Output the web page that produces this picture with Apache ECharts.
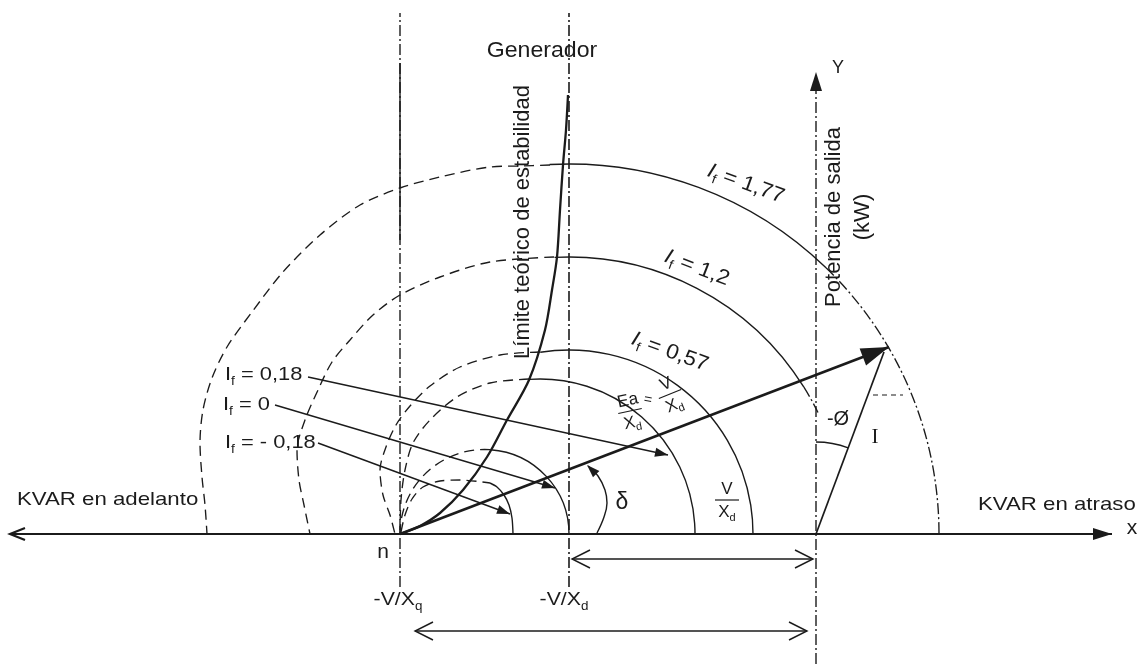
<!DOCTYPE html>
<html><head><meta charset="utf-8">
<script src="https://cdn.jsdelivr.net/npm/echarts@6/dist/echarts.min.js"></script>
<style>html,body{margin:0;padding:0;background:#fff}#c{width:1139px;height:664px}</style>
</head><body><div id="c"></div>
<script>
// ---- diagram units: 1 unit = 1 px of the original figure, origin at foot of the Y axis, y up ----
const xRange = [-816, 323];
const yRange = [-130, 534];

// stability-limit ("Generador") curve
const generatorCurve = [[-248,439],[-250,404],[-253,369],[-256,324],[-259,277],[-264,244],[-271,204],[-287,154],[-309,114],[-329,77],[-353,44],[-376,21],[-396,8],[-416,0]];

// constant-excitation circles : [cx, cy, r, fromDeg, toDeg]
const arcsSolid = [[-247,0,370,46,93],[-247,0,277,32,93],[-247,0,184,0,99],[-276,0,155,0,94],[-331.5,0,84.5,0,86],[0,0,92,69.5,90]];
const arcsDashDot = [[-247,0,370,0,46],[-247,0,277,26,32]];
const arcsDashed = [[-331.5,0,84.5,86,180]];

// dashed continuations of the excitation curves
const curve177Dashed = [[-266,369],[-296,368],[-326,367],[-376,357],[-416,346],[-456,329],[-496,299],[-533,262],[-564,222],[-589,187],[-604,156],[-613,124],[-616,91],[-614,57],[-611,29],[-609,0]];
const curve12Dashed = [[-262,277],[-326,272],[-376,257],[-416,239],[-443,219],[-466,194],[-484,172],[-498,144],[-511,114],[-519,84],[-517,54],[-512,29],[-506,0]];
const curve057Dashed = [[-276,182],[-316,179],[-356,167],[-386,148],[-406,128],[-420,109],[-430,87],[-436,64],[-433,39],[-426,19],[-421,0]];
const curveEaDashed = [[-287,155],[-326,151],[-359,137],[-386,114],[-403,91],[-411,64],[-415,34],[-416,0]];
const curveNegDashed = [[-415,2],[-411,19],[-404,35],[-393,47],[-376,53],[-356,54],[-326,51]];
const curveNegSolid = [[-326,51],[-319,47],[-312,39],[-307,29],[-304,16],[-303,0]];
const deltaArc = [[-228,68],[-218,58],[-211,44],[-209,31],[-212,17],[-219,1]];

// straight elements
const xAxisLine = [[-806,0],[296,0]];
const yAxisLine = [[0,-130],[0,445]];
const nLine = [[-416,-53],[-416,521]];
const nLineSolid = [[-416,294],[-416,471]];
const vxdLine = [[-247,-53],[-247,521]];
const mainVector = [[-416,0],[73,187]];
const currentVector = [[0,0],[68,182]];
const leader018 = [[-508,157],[-148,79]];
const leader0 = [[-541,129],[-261,46]];
const leaderNeg018 = [[-498,91],[-306,20]];
const spanVd = [[-244,-25],[-3,-25]];
const spanVq = [[-401,-97],[-9,-97]];
const tickDash = [[57,139],[87,139]];

// arrow heads : [fromX, fromY, tipX, tipY]
const bigHeads = [[-416,0,73,187]];
const smallHeads = [[-508,157,-148,79],[-541,129,-261,46],[-498,91,-306,20],[-218,58,-229,69]];
const axisHeads = [[0,0,296,0],[0,0,0,462]];
const leftAxisHead = [[0,0,-806,0]];
const openHeads = [[-3,-25,-244,-25],[-244,-25,-3,-25],[-9,-97,-401,-97],[-401,-97,-9,-97]];

// labels
const labelText = ['Generador','Límite teórico de estabilidad','Potencia de salida\n(kW)','Y','x','KVAR en adelanto','KVAR en atraso','n',
  '{t|-V/X}{s|q}','{t|-V/X}{s|d}','{i|I}{s|f}{t| = 1,77}','{i|I}{s|f}{t| = 1,2}','{i|I}{s|f}{t| = 0,57}',
  '{t|I}{s|f}{t| = 0,18}','{t|I}{s|f}{t| = 0}','{t|I}{s|f}{t| = - 0,18}','δ','-Ø','I','='];
const labelAt = [[-274,483],[-293,312],[32,317],[22,466],[316,6],[-799,34],[162,29],[-433,-18],
  [-418,-66],[-252,-66],[-70,350],[-119,266],[-146,182],
  [-591,159],[-593,129],[-591,91],[-194,31],[22,115],[59,97],[-168,134]];
const fracNum = ['Ea','V','V'];
const fracAt = [[-186,123],[-146,140],[-89,34]];

// ---- styles ----
const INK = '#1b1b1b';
const SANS = '"Liberation Sans", Arial, sans-serif';
const labelStyle = [
  {fs:22, sx:1.05}, {fs:22, rot:90}, {fs:22, rot:90, lh:29}, {fs:18}, {fs:21},
  {fs:19, sx:1.17, align:'left'}, {fs:19, sx:1.17, align:'left'}, {fs:21},
  {fs:19, sx:1.12}, {fs:19, sx:1.12},
  {fs:21, rot:-20, sx:1.08}, {fs:21, rot:-21, sx:1.08}, {fs:21, rot:-20, sx:1.08},
  {fs:19, sx:1.15, align:'left'}, {fs:19, sx:1.15, align:'left'}, {fs:19, sx:1.15, align:'left'},
  {fs:23}, {fs:20}, {fs:21, serif:true}, {fs:14, rot:-10}
];
const fracRotate = [12, 22, 0];

function richFor(fs) {
  return {
    t: {fontSize: fs, fontFamily: SANS, fill: INK, lineHeight: Math.round(fs*1.3)},
    i: {fontSize: fs, fontFamily: SANS, fontStyle: 'italic', fill: INK, lineHeight: Math.round(fs*1.3)},
    s: {fontSize: Math.round(fs*0.62), fontFamily: SANS, fill: INK, verticalAlign: 'bottom', lineHeight: Math.round(fs*0.62)}
  };
}

function lineSeries(points, width, dash, smooth) {
  return {type:'line', data: points, symbol:'none', showSymbol:false, smooth: smooth || false, silent:true,
    animation:false, clip:false, z:2, lineStyle:{color: INK, width: width, type: dash || 'solid'}};
}

function arcSeries(data, width, dash) {
  return {type:'custom', data: data, silent:true, animation:false, clip:false, z:2,
    renderItem: function (params, api) {
      const c = api.coord([api.value(0), api.value(1)]);
      const r = api.size([api.value(2), 0])[0];
      const a0 = api.value(3) * Math.PI / 180, a1 = api.value(4) * Math.PI / 180;
      return {type:'arc', shape:{cx:c[0], cy:c[1], r:r, startAngle:-a1, endAngle:-a0, clockwise:true},
        style:{stroke: INK, fill:'none', lineWidth: width, lineDash: dash || null}};
    }};
}

function headSeries(data, len, half, filled, lw) {
  return {type:'custom', data: data, silent:true, animation:false, clip:false, z:4,
    renderItem: function (params, api) {
      const a = api.coord([api.value(0), api.value(1)]);
      const b = api.coord([api.value(2), api.value(3)]);
      const dx = b[0]-a[0], dy = b[1]-a[1], L = Math.hypot(dx, dy);
      const ux = dx/L, uy = dy/L, px = -uy, py = ux;
      const bx = b[0]-ux*len, by = b[1]-uy*len;
      const p1 = [bx+px*half, by+py*half], p2 = [bx-px*half, by-py*half];
      if (filled) return {type:'polygon', shape:{points:[b, p1, p2]}, style:{fill: INK}};
      return {type:'polyline', shape:{points:[p1, b, p2]}, style:{stroke: INK, lineWidth: lw, fill:'none'}};
    }};
}

const labelSeries = {type:'custom', data: labelAt, silent:true, animation:false, clip:false, z:5,
  renderItem: function (params, api) {
    const i = params.dataIndex;
    const s = labelStyle[i];
    const p = api.coord([api.value(0), api.value(1)]);
    const style = {text: labelText[i], fill: INK, fontSize: s.fs,
      fontFamily: s.serif ? '"Liberation Serif", "DejaVu Serif", serif' : SANS,
      align: s.align || 'center', verticalAlign: 'middle'};
    if (s.lh) style.lineHeight = s.lh;
    if (labelText[i].indexOf('{') >= 0) style.rich = richFor(s.fs);
    return {type:'text', x: p[0], y: p[1], rotation: (s.rot || 0) * Math.PI / 180, scaleX: s.sx || 1, style: style};
  }};

const fracSeries = {type:'custom', data: fracAt, silent:true, animation:false, clip:false, z:5,
  renderItem: function (params, api) {
    const i = params.dataIndex;
    const p = api.coord([api.value(0), api.value(1)]);
    const fs = 17;
    return {type:'group', x: p[0], y: p[1], rotation: fracRotate[i] * Math.PI / 180, children: [
      {type:'text', x:0, y:-2, style:{text: fracNum[i], fontSize: fs, fontFamily: SANS, fill: INK, align:'center', verticalAlign:'bottom'}},
      {type:'line', shape:{x1:-12, y1:0, x2:12, y2:0}, style:{stroke: INK, lineWidth: 1.2}},
      {type:'text', x:0, y:1, style:{text:'{t|X}{s|d}', rich: richFor(fs), align:'center', verticalAlign:'top'}}
    ]};
  }};

const DASH = [10, 6];
const DASHDOT = [11, 3, 2, 3];

const chart = echarts.init(document.getElementById('c'), null, {renderer:'canvas'});
chart.setOption({
  backgroundColor: '#ffffff',
  animation: false,
  grid: {left:0, right:0, top:0, bottom:0},
  xAxis: {type:'value', min: xRange[0], max: xRange[1], show:false},
  yAxis: {type:'value', min: yRange[0], max: yRange[1], show:false},
  series: [
    lineSeries(xAxisLine, 2),
    lineSeries(yAxisLine, 1.4, DASHDOT),
    lineSeries(nLine, 1.4, DASHDOT),
    lineSeries(nLineSolid, 1.4),
    lineSeries(vxdLine, 1.6, DASHDOT),
    lineSeries(generatorCurve, 2.3, null, 0.3),
    lineSeries(curve177Dashed, 1.35, DASH, 0.3),
    lineSeries(curve12Dashed, 1.35, DASH, 0.3),
    lineSeries(curve057Dashed, 1.35, DASH, 0.3),
    lineSeries(curveEaDashed, 1.35, DASH, 0.3),
    lineSeries(curveNegDashed, 1.35, DASH, 0.3),
    lineSeries(curveNegSolid, 1.4, null, 0.3),
    lineSeries(deltaArc, 1.4, null, 0.4),
    lineSeries(mainVector, 2.6),
    lineSeries(currentVector, 1.7),
    lineSeries(leader018, 1.4),
    lineSeries(leader0, 1.4),
    lineSeries(leaderNeg018, 1.4),
    lineSeries(spanVd, 1.4),
    lineSeries(spanVq, 1.4),
    lineSeries(tickDash, 1.2, [5, 4]),
    arcSeries(arcsSolid, 1.4),
    arcSeries(arcsDashDot, 1.35, DASHDOT),
    arcSeries(arcsDashed, 1.35, DASH),
    headSeries(bigHeads, 28, 9, true),
    headSeries(smallHeads, 13, 4.5, true),
    headSeries(axisHeads, 19, 6, true),
    headSeries(leftAxisHead, 15, 6, false, 2.2),
    headSeries(openHeads, 18, 9, false, 1.4),
    labelSeries,
    fracSeries
  ]
});
</script></body></html>
